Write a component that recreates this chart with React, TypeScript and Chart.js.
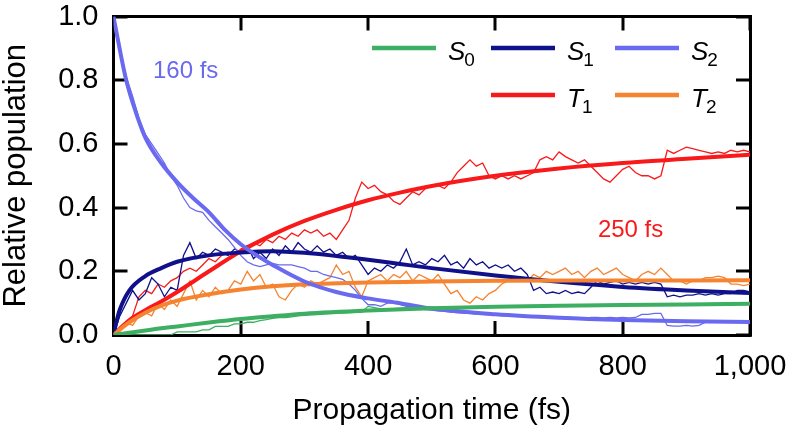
import React, { useEffect, useRef } from "react";
import { Chart, registerables } from "chart.js";

Chart.register(...registerables);

// ---------- data ----------
const X_TICKS = [0, 200, 400, 600, 800, 1000];
const Y_TICKS = [0, 0.2, 0.4, 0.6, 0.8, 1.0];
const RAW_STEP_FS = 10; // raw trajectories sampled every 10 fs, from 0 to 1000 fs

const S0_RAW = [
  0, 0, 0, 0, 0, 0, 0, 0, 0, 0,
  0.01, 0.01, 0.01, 0.01, 0.016, 0.016,
  0.027, 0.027, 0.027, 0.035, 0.035,
  0.04, 0.04, 0.045, 0.048,
  0.052, 0.055, 0.055, 0.057, 0.06, 0.062,
  0.063, 0.064, 0.066, 0.067, 0.068, 0.069, 0.07, 0.071, 0.072,
  0.09, 0.086, 0.082, 0.082, 0.083, 0.084, 0.085, 0.085, 0.086, 0.086,
  0.087, 0.087, 0.087, 0.088, 0.088, 0.088, 0.088, 0.089, 0.089, 0.089,
  0.089, 0.09, 0.09, 0.09, 0.091, 0.091, 0.091, 0.092, 0.092, 0.092,
  0.092, 0.093, 0.093, 0.093, 0.093, 0.094, 0.094, 0.094, 0.094, 0.094,
  0.095, 0.095, 0.095, 0.095, 0.095, 0.095, 0.095, 0.098, 0.098, 0.098,
  0.098, 0.098, 0.098, 0.098, 0.099, 0.099, 0.099, 0.099, 0.099, 0.1, 0.1,
];
const S1_RAW = [
  0, 0.06, 0.1, 0.14, 0.11, 0.13, 0.18, 0.16, 0.12, 0.15,
  0.14, 0.25, 0.29, 0.24, 0.26, 0.25, 0.27, 0.26, 0.25, 0.27,
  0.26, 0.28, 0.24, 0.26, 0.24, 0.27, 0.25, 0.28, 0.26, 0.29,
  0.27, 0.26, 0.28, 0.26, 0.27, 0.25, 0.26, 0.24, 0.25, 0.22,
  0.19, 0.21, 0.2, 0.22, 0.21, 0.23, 0.27, 0.22, 0.23, 0.22,
  0.24, 0.23, 0.25, 0.22, 0.23, 0.21, 0.24, 0.22, 0.23, 0.21,
  0.22, 0.21, 0.22, 0.2, 0.21, 0.19, 0.14, 0.15, 0.13, 0.135,
  0.13, 0.14, 0.13, 0.135, 0.13, 0.15, 0.17, 0.16, 0.165, 0.17,
  0.16, 0.165, 0.16, 0.165, 0.16, 0.165, 0.16, 0.12, 0.125, 0.12,
  0.125, 0.125, 0.13, 0.125, 0.13, 0.125, 0.13, 0.13, 0.14, 0.14, 0.135,
];
const S2_RAW = [
  1.0, 0.9, 0.81, 0.75, 0.68, 0.63, 0.6, 0.57, 0.54, 0.5,
  0.47, 0.43, 0.4, 0.39, 0.385, 0.36, 0.34, 0.32, 0.3, 0.275,
  0.25, 0.23, 0.22, 0.215, 0.22, 0.225, 0.22, 0.22, 0.22, 0.215,
  0.21, 0.2, 0.2, 0.19, 0.185, 0.18, 0.175, 0.16, 0.14, 0.115,
  0.095, 0.095, 0.09, 0.1, 0.1, 0.095, 0.09, 0.088, 0.083, 0.08,
  0.078, 0.076, 0.074, 0.072, 0.07, 0.069, 0.068, 0.066, 0.065, 0.064,
  0.063, 0.061, 0.06, 0.059, 0.058, 0.057, 0.056, 0.055, 0.054, 0.053,
  0.052, 0.052, 0.051, 0.05, 0.05, 0.055, 0.055, 0.054, 0.055, 0.054,
  0.055, 0.054, 0.055, 0.065, 0.065, 0.068, 0.068, 0.03, 0.028, 0.028,
  0.03, 0.028, 0.03, 0.04, 0.04, 0.04, 0.04, 0.04, 0.04, 0.04, 0.04,
];
const T1_RAW = [
  0, 0.02, 0.04, 0.06, 0.12, 0.14, 0.13, 0.16, 0.15, 0.17,
  0.18, 0.2, 0.21, 0.2, 0.22, 0.24, 0.23, 0.25, 0.26, 0.25,
  0.27, 0.28, 0.29, 0.28, 0.3, 0.29, 0.31, 0.3, 0.32, 0.31,
  0.33, 0.32, 0.33, 0.31, 0.32, 0.3, 0.33, 0.36, 0.43, 0.48,
  0.46, 0.47, 0.45, 0.44, 0.42, 0.41, 0.43, 0.45, 0.44, 0.46,
  0.47, 0.47, 0.46, 0.48, 0.51, 0.53, 0.55, 0.53, 0.54, 0.5,
  0.49, 0.5, 0.49, 0.5, 0.49, 0.5, 0.51, 0.55, 0.56, 0.55,
  0.575, 0.56, 0.55, 0.54, 0.55, 0.53, 0.51, 0.49, 0.48, 0.5,
  0.52, 0.53, 0.51, 0.5, 0.5, 0.49, 0.5, 0.58, 0.57, 0.58,
  0.59, 0.585, 0.58, 0.575, 0.57, 0.575, 0.57, 0.58, 0.575, 0.58, 0.575,
];
const T2_RAW = [
  0, 0.02, 0.04, 0.03, 0.06, 0.07, 0.06, 0.1, 0.08, 0.11,
  0.09, 0.13, 0.17, 0.11, 0.14, 0.12, 0.15, 0.13, 0.14, 0.17,
  0.16, 0.2, 0.17, 0.19, 0.15, 0.16, 0.12, 0.11, 0.14, 0.16,
  0.15, 0.17, 0.16, 0.17, 0.18, 0.22, 0.19, 0.2, 0.15, 0.12,
  0.17, 0.18, 0.19, 0.17, 0.19, 0.18, 0.2, 0.17, 0.19, 0.18,
  0.17, 0.19, 0.16, 0.13, 0.14, 0.11, 0.1, 0.12, 0.11, 0.13,
  0.14, 0.16, 0.17, 0.18, 0.17, 0.17, 0.19, 0.18, 0.2, 0.19,
  0.2, 0.21, 0.19, 0.2, 0.18, 0.2, 0.21, 0.19, 0.2, 0.21,
  0.19, 0.18, 0.17, 0.19, 0.2, 0.19, 0.21, 0.19, 0.17, 0.17,
  0.16, 0.17, 0.17, 0.18, 0.18, 0.185, 0.18, 0.16, 0.16, 0.155, 0.16,
];

// fitted curves
const S0_FIT_T = [0, 25, 50, 75, 100, 150, 200, 250, 300, 400, 500, 600, 700, 800, 900, 1000];
const S0_FIT = [0, 0.007, 0.014, 0.021, 0.027, 0.039, 0.05, 0.059, 0.067, 0.077, 0.084, 0.089, 0.092, 0.094, 0.096, 0.098];
const S1_FIT_T = [0, 5, 10, 25, 50, 75, 100, 150, 200, 250, 300, 350, 400, 450, 500, 600, 700, 800, 900, 1000];
const S1_FIT = [0, 0.045, 0.08, 0.14, 0.185, 0.21, 0.23, 0.25, 0.259, 0.263, 0.258, 0.248, 0.236, 0.223, 0.21, 0.187, 0.167, 0.151, 0.14, 0.132];
const S2_FIT_T = [0, 10, 20, 35, 50, 75, 100, 125, 150, 175, 200, 225, 250, 300, 350, 400, 450, 500, 600, 700, 800, 900, 1000];
const S2_FIT = [1.0, 0.895, 0.8, 0.7, 0.62, 0.54, 0.48, 0.43, 0.385, 0.33, 0.285, 0.25, 0.22, 0.168, 0.135, 0.115, 0.1, 0.083, 0.065, 0.054, 0.047, 0.043, 0.041];
const T1_FIT_T = [0, 10, 25, 50, 75, 100, 150, 200, 250, 300, 350, 400, 450, 500, 600, 700, 800, 900, 1000];
const T1_FIT = [0, 0.02, 0.047, 0.078, 0.105, 0.135, 0.2, 0.263, 0.315, 0.358, 0.393, 0.423, 0.447, 0.468, 0.5, 0.523, 0.54, 0.553, 0.566];
const T2_FIT_T = [0, 10, 25, 50, 75, 100, 150, 200, 250, 300, 400, 500, 600, 800, 1000];
const T2_FIT = [0, 0.017, 0.04, 0.07, 0.092, 0.108, 0.128, 0.143, 0.153, 0.159, 0.165, 0.168, 0.17, 0.171, 0.172];

const COLORS = {
  S0: "#3daf62",
  S1: "#10108a",
  S2: "#6a6af0",
  T1: "#f81a1a",
  T2: "#f5832f",
};

const FONT = "'Liberation Sans', Arial, Helvetica, sans-serif";

const LEGEND = [
  { letter: "S", sub: "0", color: COLORS.S0, col: 0, row: 0 },
  { letter: "S", sub: "1", color: COLORS.S1, col: 1, row: 0 },
  { letter: "S", sub: "2", color: COLORS.S2, col: 2, row: 0 },
  { letter: "T", sub: "1", color: COLORS.T1, col: 1, row: 1 },
  { letter: "T", sub: "2", color: COLORS.T2, col: 2, row: 1 },
];

const ANNOTATIONS = [
  { text: "160 fs", t: 62, v: 0.807, color: COLORS.S2 },
  { text: "250 fs", t: 761, v: 0.309, color: COLORS.T1 },
];

// ---------- helpers ----------
const rawPoints = (vals: number[]) => vals.map((v, i) => ({ x: i * RAW_STEP_FS, y: v }));
const fitPoints = (ts: number[], vals: number[]) => ts.map((t, i) => ({ x: t, y: vals[i] }));

const rawDs = (vals: number[], color: string) => ({
  data: rawPoints(vals),
  borderColor: color,
  borderWidth: 1.3,
  pointRadius: 0,
  tension: 0,
  order: 1,
});
const fitDs = (ts: number[], vals: number[], color: string) => ({
  data: fitPoints(ts, vals),
  borderColor: color,
  borderWidth: 4,
  pointRadius: 0,
  cubicInterpolationMode: "monotone" as const,
  order: 0,
});

const overlayPlugin = {
  id: "overlayPlugin",
  afterDraw(chart: any) {
    const ctx: CanvasRenderingContext2D = chart.ctx;
    const a = chart.chartArea;
    const xs = chart.scales.x;
    const ys = chart.scales.y;
    ctx.save();
    // legend
    const colStart = [a.right - 378, a.right - 259, a.right - 135];
    const rowLine = [a.top + 31.5, a.top + 78.5];
    const rowBase = [a.top + 43.5, a.top + 90];
    LEGEND.forEach((e) => {
      const x0 = colStart[e.col];
      ctx.fillStyle = e.color;
      ctx.fillRect(x0, rowLine[e.row] - 2.25, 64, 4.5);
      ctx.fillStyle = "#000000";
      ctx.textAlign = "left";
      ctx.textBaseline = "alphabetic";
      ctx.font = `italic 26px ${FONT}`;
      const lx = x0 + 76;
      ctx.fillText(e.letter, lx, rowBase[e.row]);
      const w = ctx.measureText(e.letter).width;
      ctx.font = `19px ${FONT}`;
      ctx.fillText(e.sub, lx + w - 1, rowBase[e.row] + 6);
    });
    // annotations
    ANNOTATIONS.forEach((n) => {
      ctx.fillStyle = n.color;
      ctx.font = `24px ${FONT}`;
      ctx.textAlign = "left";
      ctx.textBaseline = "alphabetic";
      ctx.fillText(n.text, xs.getPixelForValue(n.t), ys.getPixelForValue(n.v));
    });
    ctx.restore();
  },
};

const zeroPad = (s: any) => {
  s.paddingLeft = 0;
  s.paddingRight = 0;
  s.paddingTop = 0;
  s.paddingBottom = 0;
};

const frameGrid = {
  display: true,
  drawOnChartArea: false,
  drawTicks: true,
  tickLength: -14,
  tickWidth: 3,
  tickColor: "#000",
  lineWidth: 0,
};
const frameBorder = { display: true, width: 3, color: "#000" };

export default function App() {
  const canvasRef = useRef<HTMLCanvasElement | null>(null);

  useEffect(() => {
    document.body.style.margin = "0";
    document.body.style.overflow = "hidden";
    const canvas = canvasRef.current;
    if (!canvas) return;
    const chart = new Chart(canvas, {
      type: "line",
      data: {
        datasets: [
          rawDs(S0_RAW, COLORS.S0),
          rawDs(S2_RAW, COLORS.S2),
          rawDs(T2_RAW, COLORS.T2),
          rawDs(S1_RAW, COLORS.S1),
          rawDs(T1_RAW, COLORS.T1),
          fitDs(S0_FIT_T, S0_FIT, COLORS.S0),
          fitDs(S2_FIT_T, S2_FIT, COLORS.S2),
          fitDs(T2_FIT_T, T2_FIT, COLORS.T2),
          fitDs(S1_FIT_T, S1_FIT, COLORS.S1),
          fitDs(T1_FIT_T, T1_FIT, COLORS.T1),
        ] as any,
      },
      options: {
        animation: false,
        responsive: false,
        locale: "en-US",
        layout: { autoPadding: false, padding: { top: 16.5, right: 38, bottom: 0, left: 0 } },
        plugins: { legend: { display: false }, tooltip: { enabled: false } },
        scales: {
          x: {
            type: "linear",
            position: "bottom",
            min: 0,
            max: 1000,
            grid: frameGrid,
            border: frameBorder,
            ticks: {
              stepSize: 200,
              color: "#000",
              maxRotation: 0,
              autoSkip: false,
              padding: 29,
              font: { family: FONT, size: 29 },
            },
            title: {
              display: true,
              text: "Propagation time (fs)",
              color: "#000",
              font: { family: FONT, size: 30 },
              padding: { top: 0, bottom: 6 },
            },
            afterFit: (s: any) => {
              s.height = 100;
              zeroPad(s);
            },
          },
          x2: {
            type: "linear",
            position: "top",
            min: 0,
            max: 1000,
            grid: frameGrid,
            border: frameBorder,
            ticks: { stepSize: 200, display: false },
            afterFit: (s: any) => {
              s.height = 0;
              zeroPad(s);
            },
          },
          y: {
            type: "linear",
            position: "left",
            min: 0,
            max: 1,
            grid: frameGrid,
            border: frameBorder,
            ticks: {
              stepSize: 0.2,
              color: "#000",
              autoSkip: false,
              padding: 29,
              font: { family: FONT, size: 29, lineHeight: 1 },
              callback: (v: any) => Number(v).toFixed(1),
            },
            title: {
              display: true,
              text: "Relative population",
              color: "#000",
              font: { family: FONT, size: 31, lineHeight: 1.05 },
              padding: { top: 0, bottom: 0 },
            },
            afterFit: (s: any) => {
              s.width = 113.5;
              zeroPad(s);
            },
          },
          y2: {
            type: "linear",
            position: "right",
            min: 0,
            max: 1,
            grid: frameGrid,
            border: frameBorder,
            ticks: { stepSize: 0.2, display: false },
            afterFit: (s: any) => {
              s.width = 0;
              zeroPad(s);
            },
          },
        },
      },
      plugins: [overlayPlugin],
    });
    return () => chart.destroy();
  }, []);

  return <canvas ref={canvasRef} width={788} height={435} style={{ display: "block" }} />;
}
